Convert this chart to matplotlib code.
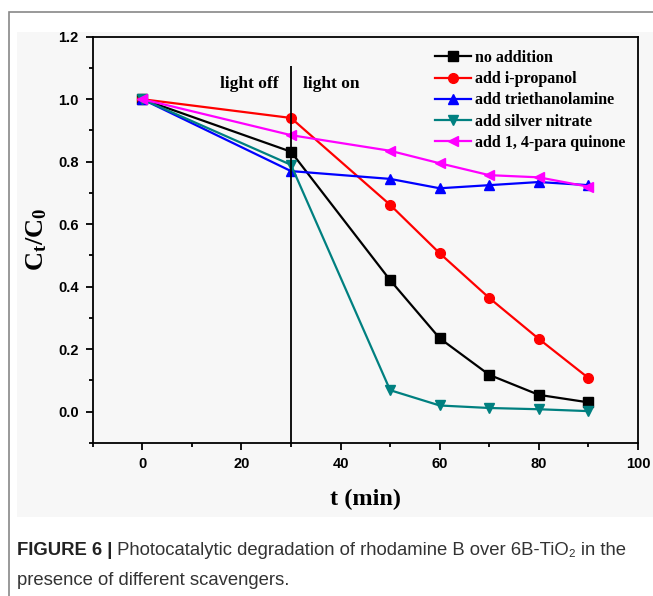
import matplotlib
matplotlib.use('Agg')
import matplotlib.pyplot as plt
from matplotlib.patches import Rectangle
from matplotlib.ticker import MultipleLocator

# data
t = [0, 30, 50, 60, 70, 80, 90]
no_addition = [1.0, 0.832, 0.421, 0.235, 0.118, 0.054, 0.030]
i_propanol = [1.0, 0.940, 0.662, 0.507, 0.364, 0.233, 0.108]
triethanolamine = [1.0, 0.770, 0.745, 0.715, 0.725, 0.735, 0.725]
silver_nitrate = [1.0, 0.790, 0.069, 0.020, 0.012, 0.008, 0.002]
para_quinone = [1.0, 0.885, 0.835, 0.795, 0.757, 0.750, 0.720]

labels = ['no addition', 'add i-propanol', 'add triethanolamine',
          'add silver nitrate', 'add 1, 4-para quinone']
colors = ['black', '#ff0000', '#0000ff', '#008080', '#ff00ff']
markers = ['s', 'o', '^', 'v', '<']
series = [no_addition, i_propanol, triethanolamine, silver_nitrate, para_quinone]

sans = ['Liberation Sans', 'DejaVu Sans']
serif = ['Liberation Serif', 'DejaVu Serif']
plt.rcParams['mathtext.fontset'] = 'custom'
plt.rcParams['mathtext.rm'] = 'Liberation Serif:bold'
plt.rcParams['mathtext.it'] = 'Liberation Serif:bold'
plt.rcParams['mathtext.bf'] = 'Liberation Serif:bold'

fig = plt.figure(figsize=(6.53, 5.96), dpi=100)
W, H = 653, 596

# outer frame and grey picture area
fig.patches.append(Rectangle((9 / W, -0.1), 1, 1.1 - 12 / H, transform=fig.transFigure,
                             fill=False, edgecolor='#888888', lw=1.2, zorder=-2))
fig.patches.append(Rectangle((17 / W, 1 - 517 / H), 1, (517 - 32) / H,
                             transform=fig.transFigure, facecolor='#f7f7f7',
                             edgecolor='none', zorder=-1))

ax = fig.add_axes([92.7 / W, 1 - 443 / H, (638 - 92.7) / W, (443 - 36.7) / H])
ax.set_facecolor('#f7f7f7')

for y, lab, c, m in zip(series, labels, colors, markers):
    ax.plot(t, y, color=c, marker=m, ms=7, lw=1.6, label=lab)

ax.vlines(30, -0.1, 1.107, color='black', lw=1.3)
ax.text(27.5, 1.05, 'light off', family=serif, fontweight='bold', fontsize=12.5,
        ha='right', va='center')
ax.text(32.5, 1.05, 'light on', family=serif, fontweight='bold', fontsize=12.5,
        ha='left', va='center')

ax.set_xlim(-10, 100)
ax.set_ylim(-0.1, 1.2)
ax.xaxis.set_major_locator(MultipleLocator(20))
ax.xaxis.set_minor_locator(MultipleLocator(10))
ax.yaxis.set_major_locator(MultipleLocator(0.2))
ax.yaxis.set_minor_locator(MultipleLocator(0.1))
ax.tick_params(which='both', direction='out', width=1.3)
ax.tick_params(which='major', length=5, pad=5)
ax.tick_params(which='minor', length=3)
ax.set_yticks([0.0, 0.2, 0.4, 0.6, 0.8, 1.0, 1.2])
ax.set_yticklabels(['0.0', '0.2', '0.4', '0.6', '0.8', '1.0', '1.2'])
for lab in ax.get_xticklabels() + ax.get_yticklabels():
    lab.set_family(sans)
    lab.set_fontweight('bold')
    lab.set_fontsize(10.5)
for s in ax.spines.values():
    s.set_linewidth(1.3)

ax.set_xlabel('t (min)', family=serif, fontweight='bold', fontsize=17.5, labelpad=13)
ax.set_ylabel(r'$\mathrm{C_t/C_0}$', fontsize=19, labelpad=6)

leg = ax.legend(loc='upper right', bbox_to_anchor=(0.998, 0.995), frameon=False,
                prop={'family': serif, 'weight': 'bold', 'size': 11.5},
                handlelength=2.3, handletextpad=0.25, labelspacing=0.33,
                borderaxespad=0.3)

# caption
cap1 = fig.text(17 / W, 1 - 555 / H, 'FIGURE 6 |', family=sans, fontweight='bold',
                fontsize=13.3, color='#222222')
ax.annotate(' Photocatalytic degradation of rhodamine B over 6B-TiO\u2082 in the',
            xy=(1, 0), xycoords=cap1, va='bottom', ha='left', family=sans,
            fontsize=13.3, color='#333333', annotation_clip=False)
fig.text(17 / W, 1 - 585 / H, 'presence of different scavengers.', family=sans,
         fontsize=13.3, color='#333333')

fig.savefig('out.png', dpi=100)
